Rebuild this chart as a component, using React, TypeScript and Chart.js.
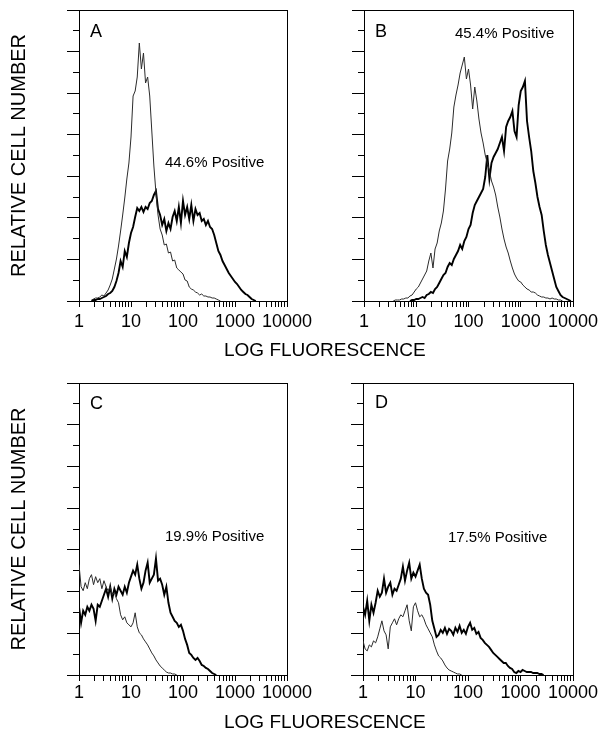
import React, { useEffect, useRef } from 'react';
import { Chart, registerables } from 'chart.js';

Chart.register(...registerables);

// ---------- data ----------
// Log-amplified channels: 25 channels per decade, 1 .. 10000
const CHANNELS_PER_DECADE = 25;
const X_MIN = 1;
const X_MAX = 10000;
const X_TICKS = [
  1, 2, 3, 4, 5, 6, 7, 8, 9,
  10, 20, 30, 40, 50, 60, 70, 80, 90,
  100, 200, 300, 400, 500, 600, 700, 800, 900,
  1000, 2000, 3000, 4000, 5000, 6000, 7000, 8000, 9000,
  10000,
];
const X_DECADES = [1, 10, 100, 1000, 10000];
const X_TICK_LABELS = ['1', '10', '100', '1000', '10000'];
const Y_MAX = 291;
const Y_DIVISIONS = 14;

const PANEL_LETTERS = ['A', 'B', 'C', 'D'];
const PANEL_POSITIVE = ['44.6% Positive', '45.4% Positive', '19.9% Positive', '17.5% Positive'];

// counts per channel (relative cell number); *_START = first channel index
const A_CONTROL_START = 6;
const A_CONTROL = [1, 2, 3, 3, 4, 6, 5, 8, 11, 16, 22, 32, 42, 55, 70, 86, 103, 122, 138, 164, 205, 210, 224, 258, 232, 248, 218, 224, 205, 170, 135, 108, 86, 72, 66, 56, 57, 48, 49, 40, 41, 33, 31, 29, 27, 21, 20, 14, 12, 11, 9, 8, 6, 7, 5, 5, 4, 4, 3, 3, 2, 1, 0];
const A_STAINED_START = 6;
const A_STAINED = [0, 1, 1, 2, 2, 3, 4, 5, 7, 8, 10, 14, 20, 28, 40, 34, 50, 44, 58, 68, 74, 84, 93, 90, 94, 89, 94, 92, 98, 100, 106, 110, 92, 86, 76, 82, 70, 78, 72, 84, 90, 80, 94, 78, 100, 86, 94, 82, 96, 80, 92, 86, 88, 80, 82, 76, 80, 74, 72, 66, 58, 50, 46, 40, 36, 32, 28, 25, 22, 19, 17, 14, 11, 9, 7, 6, 4, 2, 1, 0];

const B_CONTROL_START = 14;
const B_CONTROL = [0, 1, 1, 1, 2, 2, 3, 3, 5, 6, 9, 12, 14, 18, 22, 26, 30, 40, 48, 33, 52, 58, 70, 78, 90, 112, 140, 152, 168, 194, 206, 216, 228, 236, 244, 222, 232, 216, 192, 214, 200, 182, 168, 158, 146, 138, 130, 120, 114, 106, 94, 84, 72, 62, 54, 48, 40, 33, 27, 23, 20, 19, 16, 14, 12, 11, 9, 9, 8, 6, 5, 4, 4, 3, 3, 2, 3, 2, 2, 1, 1, 0];
const B_STAINED_START = 22;
const B_STAINED = [0, 1, 1, 2, 2, 3, 4, 3, 6, 7, 9, 8, 12, 14, 18, 22, 26, 28, 34, 38, 36, 42, 46, 50, 56, 52, 60, 64, 72, 76, 88, 96, 100, 104, 108, 112, 124, 146, 122, 138, 144, 148, 152, 158, 164, 150, 174, 180, 184, 190, 170, 164, 196, 210, 214, 220, 180, 164, 150, 130, 118, 104, 94, 86, 70, 56, 46, 38, 30, 22, 14, 10, 6, 4, 3, 2, 1, 0];

const C_CONTROL_START = 0;
const C_CONTROL = [110, 88, 84, 92, 86, 96, 100, 90, 98, 92, 96, 86, 94, 88, 84, 88, 80, 82, 76, 72, 60, 55, 58, 52, 50, 48, 52, 62, 48, 42, 40, 36, 33, 30, 26, 22, 19, 15, 12, 9, 7, 5, 3, 2, 2, 1, 1, 0];
const C_STAINED_START = 0;
const C_STAINED = [68, 52, 64, 60, 68, 64, 70, 66, 54, 70, 68, 74, 80, 86, 78, 88, 76, 86, 80, 88, 84, 80, 88, 82, 92, 98, 104, 100, 110, 96, 86, 92, 104, 112, 92, 96, 100, 116, 94, 96, 90, 80, 88, 72, 62, 58, 54, 52, 48, 50, 44, 36, 30, 22, 20, 17, 15, 17, 14, 10, 9, 7, 6, 4, 2, 1, 0];

const D_CONTROL_START = 0;
const D_CONTROL = [34, 26, 24, 30, 28, 34, 32, 38, 46, 54, 44, 40, 26, 48, 52, 56, 50, 56, 60, 58, 64, 70, 54, 44, 68, 72, 64, 58, 60, 56, 50, 46, 42, 38, 30, 24, 19, 17, 14, 10, 7, 5, 4, 3, 2, 1, 1, 0];
const D_STAINED_START = 0;
const D_STAINED = [68, 60, 74, 54, 70, 62, 72, 84, 78, 82, 96, 82, 88, 92, 80, 86, 84, 90, 96, 108, 94, 104, 112, 96, 102, 98, 104, 110, 96, 86, 82, 80, 70, 54, 46, 38, 40, 45, 42, 47, 41, 46, 44, 40, 47, 43, 49, 42, 45, 41, 48, 52, 45, 47, 41, 43, 37, 35, 32, 30, 28, 25, 22, 20, 18, 16, 14, 12, 12, 9, 7, 6, 3, 2, 4, 3, 5, 4, 3, 3, 3, 2, 2, 2, 1, 1, 0];

// ---------- presentation ----------
const FONT = "'Liberation Sans', Arial, Helvetica, sans-serif";

const channelValue = (ch: number) => Math.pow(10, ch / CHANNELS_PER_DECADE);
const toPoints = (start: number, counts: number[]) =>
  counts.map((c, k) => ({ x: channelValue(start + k), y: c }));

type Panel = {
  control: number[];
  controlStart: number;
  stained: number[];
  stainedStart: number;
  showYTitle: boolean;
  box: { left: number; top: number; width: number; height: number };
  area: { left: number; top: number; right: number; bottom: number };
  labelPad: number;
  letterAt: [number, number];
  textAt: [number, number];
};

const PANELS: Panel[] = [
  {
    control: A_CONTROL, controlStart: A_CONTROL_START, stained: A_STAINED, stainedStart: A_STAINED_START,
    showYTitle: true,
    box: { left: 0, top: 0, width: 340, height: 370 },
    area: { left: 79, top: 10, right: 287, bottom: 301 },
    labelPad: 4, letterAt: [11, 27], textAt: [86, 157],
  },
  {
    control: B_CONTROL, controlStart: B_CONTROL_START, stained: B_STAINED, stainedStart: B_STAINED_START,
    showYTitle: false,
    box: { left: 300, top: 0, width: 300, height: 370 },
    area: { left: 64, top: 10, right: 273, bottom: 301 },
    labelPad: 4, letterAt: [11, 27], textAt: [91, 28],
  },
  {
    control: C_CONTROL, controlStart: C_CONTROL_START, stained: C_STAINED, stainedStart: C_STAINED_START,
    showYTitle: true,
    box: { left: 0, top: 370, width: 340, height: 367 },
    area: { left: 79, top: 13, right: 287, bottom: 305 },
    labelPad: 1, letterAt: [11, 26], textAt: [86, 158],
  },
  {
    control: D_CONTROL, controlStart: D_CONTROL_START, stained: D_STAINED, stainedStart: D_STAINED_START,
    showYTitle: false,
    box: { left: 300, top: 370, width: 300, height: 367 },
    area: { left: 63, top: 13, right: 273, bottom: 305 },
    labelPad: 1, letterAt: [12, 25], textAt: [85, 159],
  },
];

function makeTextPlugin(items: { text: string; size: number; dx: number; dy: number }[]) {
  return {
    id: 'panelText',
    afterDraw(chart: any) {
      const { ctx, chartArea } = chart;
      ctx.save();
      ctx.fillStyle = '#000';
      ctx.textAlign = 'left';
      ctx.textBaseline = 'alphabetic';
      for (const it of items) {
        ctx.font = `${it.size}px ${FONT}`;
        ctx.fillText(it.text, chartArea.left + it.dx, chartArea.top + it.dy);
      }
      ctx.restore();
    },
  };
}

function buildChart(canvas: HTMLCanvasElement, p: Panel, idx: number) {
  const { box, area } = p;
  return new Chart(canvas, {
    type: 'line',
    data: {
      datasets: [
        {
          data: toPoints(p.controlStart, p.control),
          borderColor: '#2b2b2b',
          borderWidth: 1,
          pointRadius: 0,
          tension: 0,
          fill: false,
        },
        {
          data: toPoints(p.stainedStart, p.stained),
          borderColor: '#000',
          borderWidth: 1.9,
          pointRadius: 0,
          tension: 0,
          fill: false,
        },
      ],
    },
    options: {
      animation: false,
      responsive: false,
      maintainAspectRatio: false,
      events: [],
      parsing: false as any,
      layout: { padding: { left: 0, top: area.top, right: box.width - area.right, bottom: 0 } },
      plugins: { legend: { display: false }, tooltip: { enabled: false } },
      scales: {
        x: {
          type: 'logarithmic',
          position: 'bottom',
          min: X_MIN,
          max: X_MAX,
          afterBuildTicks: (s: any) => {
            s.ticks = X_TICKS.map((v) => ({ value: v, major: X_DECADES.includes(v) }));
          },
          afterFit: (s: any) => {
            s.height = box.height - area.bottom;
            s.paddingLeft = 0;
            s.paddingRight = 0;
          },
          ticks: {
            autoSkip: false,
            maxRotation: 0,
            minRotation: 0,
            padding: p.labelPad,
            color: '#000',
            font: { family: FONT, size: 18 },
            callback: (v: any) => {
              const i = X_DECADES.indexOf(Number(v));
              return i >= 0 ? X_TICK_LABELS[i] : '';
            },
          },
          grid: { drawOnChartArea: false, drawTicks: true, tickLength: 6, tickColor: '#000', tickWidth: 1 },
          border: { display: true, color: '#000', width: 1 },
        },
        y: {
          type: 'linear',
          position: 'left',
          min: 0,
          max: Y_MAX,
          afterBuildTicks: (s: any) => {
            const t = [];
            for (let k = 0; k <= Y_DIVISIONS; k++) t.push({ value: (k * Y_MAX) / Y_DIVISIONS });
            s.ticks = t;
          },
          afterFit: (s: any) => {
            s.width = area.left;
            s.paddingTop = 0;
            s.paddingBottom = 0;
          },
          ticks: { display: false },
          grid: {
            drawOnChartArea: false,
            drawTicks: true,
            tickLength: 12,
            tickColor: '#000',
            tickWidth: 1,
            tickBorderDash: (ctx: any) => (ctx.index % 2 === 1 ? [6, 6] : []),
            tickBorderDashOffset: 6,
          },
          border: { display: true, color: '#000', width: 1 },
          title: {
            display: p.showYTitle,
            text: 'RELATIVE CELL NUMBER',
            color: '#000',
            font: { family: FONT, size: 20 },
            padding: { top: 7.5, bottom: 0 },
          },
        },
        xTop: {
          type: 'linear',
          position: 'top',
          display: true,
          min: 0,
          max: 1,
          ticks: { display: false },
          grid: { drawOnChartArea: false, drawTicks: false },
          border: { display: true, color: '#000', width: 1 },
          afterFit: (s: any) => {
            s.height = 0;
          },
        },
        yRight: {
          type: 'linear',
          position: 'right',
          display: true,
          min: 0,
          max: 1,
          ticks: { display: false },
          grid: { drawOnChartArea: false, drawTicks: false },
          border: { display: true, color: '#000', width: 1 },
          afterFit: (s: any) => {
            s.width = 0;
          },
        },
      },
    } as any,
    plugins: [
      makeTextPlugin([
        { text: PANEL_LETTERS[idx], size: 18, dx: p.letterAt[0], dy: p.letterAt[1] },
        { text: PANEL_POSITIVE[idx], size: 15, dx: p.textAt[0], dy: p.textAt[1] },
      ]),
    ],
  });
}

function PanelCanvas({ panel, idx }: { panel: Panel; idx: number }) {
  const ref = useRef<HTMLCanvasElement | null>(null);
  useEffect(() => {
    if (!ref.current) return;
    const chart = buildChart(ref.current, panel, idx);
    return () => chart.destroy();
  }, [panel, idx]);
  const { box } = panel;
  return (
    <canvas
      ref={ref}
      width={box.width}
      height={box.height}
      style={{ position: 'absolute', left: box.left, top: box.top, width: box.width, height: box.height }}
    />
  );
}

const xTitleStyle: React.CSSProperties = {
  position: 'absolute',
  left: 224,
  fontFamily: FONT,
  fontSize: 19,
  lineHeight: '19px',
  whiteSpace: 'nowrap',
  color: '#000',
};

export default function App() {
  useEffect(() => {
    document.body.style.margin = '0';
  }, []);
  return (
    <div style={{ position: 'relative', width: 600, height: 737, background: '#fff', overflow: 'hidden' }}>
      {PANELS.map((p, i) => (
        <PanelCanvas key={i} panel={p} idx={i} />
      ))}
      <div style={{ ...xTitleStyle, top: 340 }}>LOG FLUORESCENCE</div>
      <div style={{ ...xTitleStyle, top: 712 }}>LOG FLUORESCENCE</div>
    </div>
  );
}
